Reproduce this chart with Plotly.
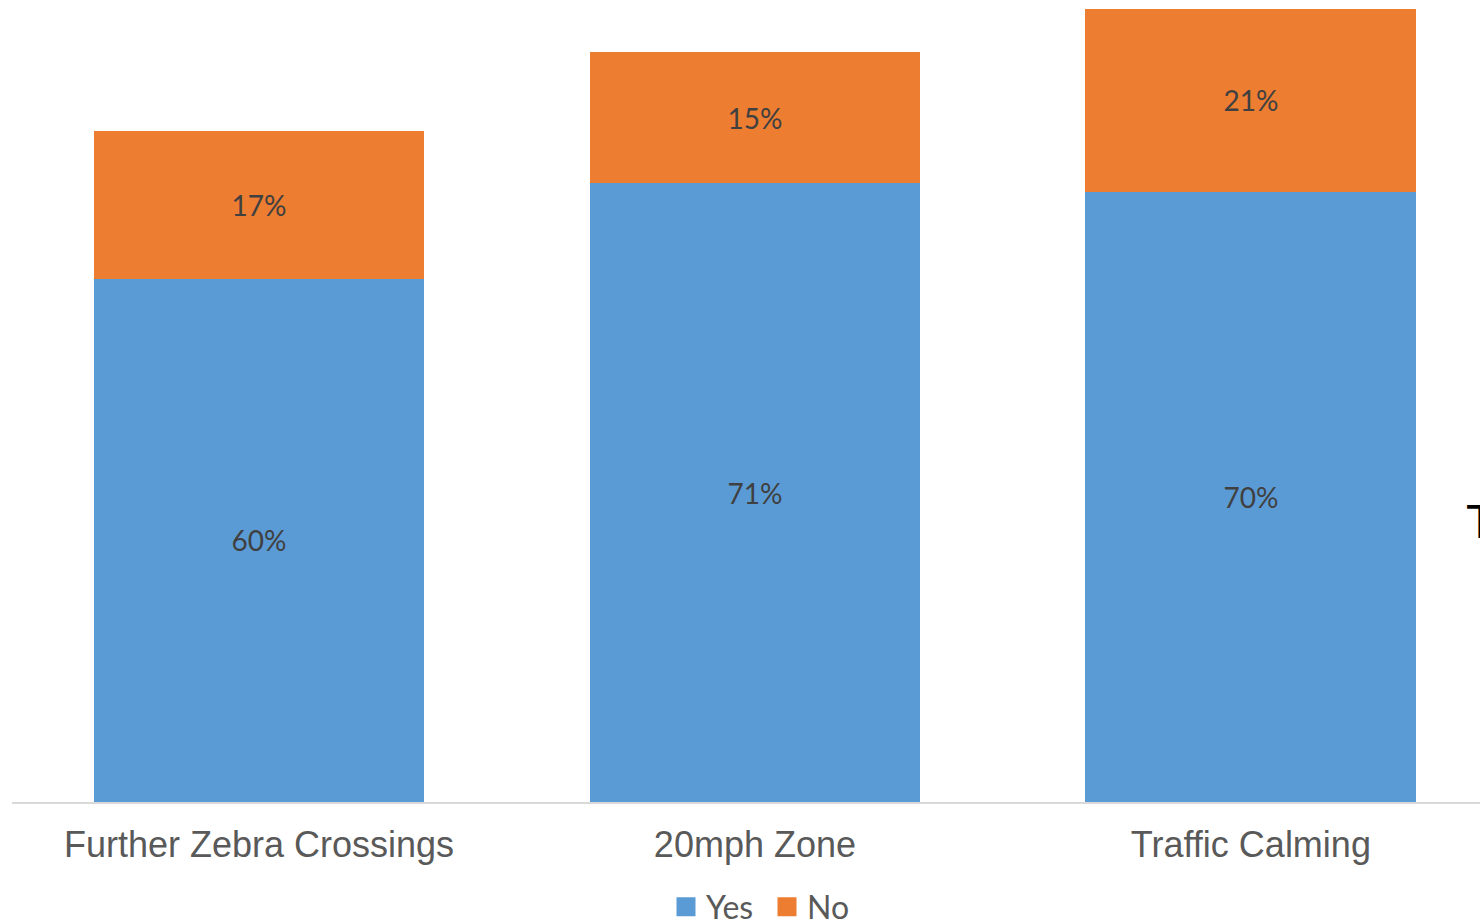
import plotly.graph_objects as go

categories = ["Further Zebra Crossings", "20mph Zone", "Traffic Calming"]
yes_values = [60, 71, 70]
no_values = [17, 15, 21]
series_names = ["Yes", "No"]
colors = ["#5B9BD5", "#ED7D31"]

W, H = 1480, 922
L, R, T, B = 12, 0, 0, 120
plot_h = H - T - B
plot_w = W - L - R

fig = go.Figure()
for vals, name, col in [(yes_values, series_names[0], colors[0]),
                        (no_values, series_names[1], colors[1])]:
    fig.add_trace(go.Bar(
        x=categories, y=vals, name=name,
        marker=dict(color=col, line=dict(width=0)),
        text=[f"{v}%" for v in vals], textposition="inside",
        insidetextanchor="middle",
        textfont=dict(family="Lato", size=28, color="#404040"),
        width=0.667, showlegend=False,
    ))
# legend entries with larger square swatches
for name, col in zip(series_names, colors):
    fig.add_trace(go.Scatter(
        x=[None], y=[None], mode="markers", name=name,
        marker=dict(symbol="square", size=16, color=col,
                    line=dict(color=col, width=3)),
        showlegend=True,
    ))

fig.update_layout(
    width=W, height=H,
    barmode="stack",
    margin=dict(l=L, r=R, t=T, b=B, autoexpand=False),
    paper_bgcolor="white", plot_bgcolor="white",
    xaxis=dict(
        range=[-0.498, 2.462],
        showline=True, linecolor="#D9D9D9", linewidth=1.5,
        showgrid=False, ticks="", zeroline=False,
        tickfont=dict(family="Liberation Sans", size=36, color="#595959"),
        ticklabelstandoff=10,
        automargin=False,
    ),
    yaxis=dict(range=[0, plot_h / 8.717], visible=False, showgrid=False,
               automargin=False),
    legend=dict(
        orientation="h", x=(767 - L) / plot_w, xanchor="center",
        y=(plot_h - 907) / plot_h, yanchor="middle",
        font=dict(family="Lato", size=32, color="#595959"),
        itemwidth=30, traceorder="normal", entrywidth=56,
    ),
    showlegend=True,
)

fig.add_annotation(
    text="T", xref="paper", yref="paper",
    x=(1464 - L) / plot_w, y=(plot_h - 521) / plot_h,
    xanchor="left", yanchor="middle", showarrow=False,
    font=dict(family="Liberation Sans", size=48, color="#000000"),
)

fig.write_html(
    "out.html",
    config={"displayModeBar": False},
    post_script="document.body.style.margin='0';document.body.style.overflow='hidden';",
)
